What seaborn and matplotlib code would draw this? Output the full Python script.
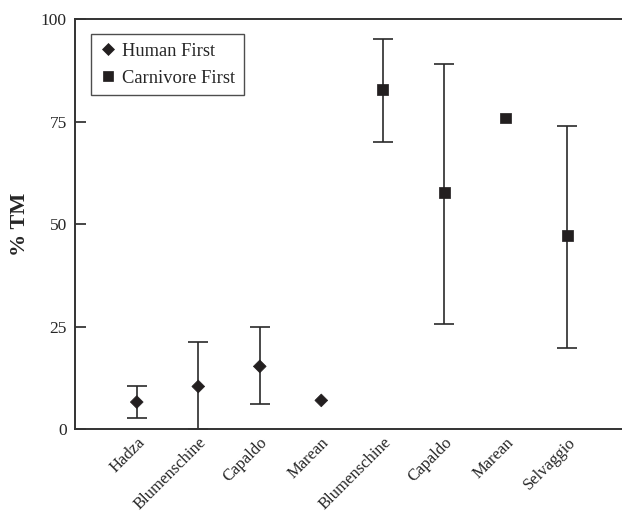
import matplotlib
matplotlib.use("Agg")
import matplotlib.pyplot as plt
import seaborn as sns
import pandas as pd
import numpy as np

labels = ["Hadza", "Blumenschine", "Capaldo", "Marean",
          "Blumenschine", "Capaldo", "Marean", "Selvaggio"]
groups = ["Human First"] * 4 + ["Carnivore First"] * 4
values = [6.6, 10.4, 15.3, 7.0, 82.9, 57.7, 75.9, 47.2]
upper = [10.4, 21.3, 24.8, np.nan, 95.1, 89.1, np.nan, 73.9]
lower = [2.6, 0.0, 6.1, np.nan, 70.0, 25.7, np.nan, 19.9]

df = pd.DataFrame({"pos": np.arange(len(labels)), "label": labels,
                   "group": groups, "value": values,
                   "upper": upper, "lower": lower})

sns.set_style("ticks")
plt.rcParams["font.family"] = ["Liberation Serif", "DejaVu Serif"]

fig = plt.figure(figsize=(6.22, 5.17), dpi=100)
ax = fig.add_axes([0.121, 0.17, 0.885, 0.793])

col = "#231f20"
eb = df.dropna(subset=["upper"])
ax.errorbar(eb["pos"], eb["value"],
            yerr=[eb["value"] - eb["lower"], eb["upper"] - eb["value"]],
            fmt="none", ecolor="#2a2a2a", elinewidth=1.2, capsize=7,
            capthick=1.2, zorder=2)

sns.scatterplot(data=df, x="pos", y="value", style="group", size="group",
                markers={"Human First": "D", "Carnivore First": "s"},
                sizes={"Human First": 42, "Carnivore First": 60},
                color=col, edgecolor=col, ax=ax, zorder=3, legend=True)

ax.set_xlim(-1, 7.95)
ax.set_ylim(0, 100)
ax.set_yticks([0, 25, 50, 75, 100])
ax.set_xticks(df["pos"])
ax.set_xticklabels(df["label"], rotation=45, ha="right",
                   rotation_mode="anchor", fontsize=12)
ax.tick_params(axis="y", direction="in", length=8, width=1.2, labelsize=12.5, pad=6)
ax.tick_params(axis="x", length=0, pad=4)
ax.set_xlabel("")
ax.set_ylabel("% TM", fontsize=16, fontweight="bold", labelpad=8)

for s in ["left", "bottom", "top"]:
    ax.spines[s].set_linewidth(1.4)
    ax.spines[s].set_color("#333333")
ax.spines["right"].set_visible(False)

leg = ax.legend(loc="upper left", bbox_to_anchor=(0.028, 0.963),
                borderaxespad=0, frameon=True, fancybox=False,
                edgecolor="#222222", fontsize=13.3, handletextpad=0.25,
                borderpad=0.45, labelspacing=0.55, handlelength=1.0,
                title=None)
leg.get_frame().set_linewidth(1.0)

fig.savefig("out.png", dpi=100)
